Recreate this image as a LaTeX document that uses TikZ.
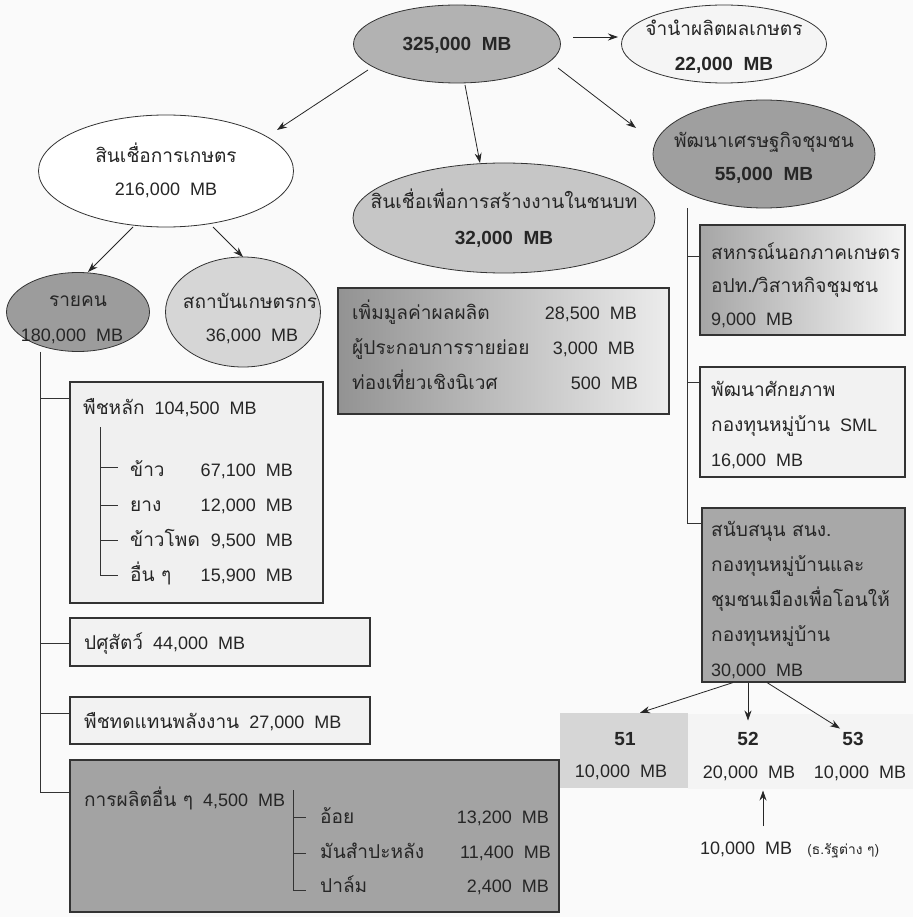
\documentclass[tikz,border=0pt]{standalone}
\usepackage{fontspec}
\setmainfont{Liberation Sans}
\newfontfamily\thf[Script=Thai,Scale=1.06]{Loma}
\usetikzlibrary{shapes.geometric,arrows.meta,calc}
\tikzset{
  ell/.style={draw=black!80, line width=0.8pt, ellipse, inner sep=0pt},
  bx/.style={draw=black!80, line width=1.1pt, rectangle, inner sep=0pt},
  arr/.style={-{Stealth[length=10pt,width=7pt]}, line width=0.8pt, draw=black!85},
  tree/.style={line width=0.9pt, draw=black!80},
  txt/.style={font=\fontsize{18}{22}\selectfont, inner sep=0pt, text=black!85},
  btxt/.style={font=\fontsize{19}{22}\selectfont\bfseries, inner sep=0pt, text=black!85},
}
\newcommand\rowl[4]{\node[txt,anchor=base west] (#1) at (#2,#3) {#4};}
\newcommand\rowr[4]{\node[txt,anchor=base east] (#1) at (#2,#3) {#4};}
\newcommand\rowc[4]{\node[txt,anchor=base] (#1) at (#2,#3) {#4};}
\newcommand\rowb[4]{\node[btxt,anchor=base] (#1) at (#2,#3) {#4};}
\begin{document}
\begin{tikzpicture}[x=1pt,y=-1pt]
\useasboundingbox (0,0) rectangle (913,917);
\fill[gray!4] (0,0) rectangle (913,917);

% ellipses
\node[ell, fill=gray!60, minimum width=207pt, minimum height=78pt] (A) at (457,44) {};
\node[ell, fill=gray!8, minimum width=205pt, minimum height=78pt] (B) at (724,44) {};
\node[ell, fill=white, minimum width=255pt, minimum height=112pt] (C) at (166,171) {};
\node[ell, fill=gray!45, minimum width=302pt, minimum height=110pt] (D) at (504,218) {};
\node[ell, fill=gray!75, minimum width=222pt, minimum height=108pt] (E) at (764,154) {};
\node[ell, fill=gray!78, minimum width=143pt, minimum height=79pt] (F) at (78,312) {};
\node[ell, fill=gray!32, minimum width=155pt, minimum height=110pt] (G) at (243,312) {};

\rowb{At}{457}{51}{325,000\ \ MB}
\rowc{B1}{724}{36}{\thf จำนำผลิตผลเกษตร}
\rowb{B2}{724}{71}{22,000\ \ MB}
\rowc{C1}{166}{163}{\thf สินเชื่อการเกษตร}
\rowc{C2}{166}{196}{216,000\ \ MB}
\rowc{D1}{504}{208}{\thf สินเชื่อเพื่อการสร้างงานในชนบท}
\rowb{D2}{504}{244}{32,000\ \ MB}
\rowc{E1}{764}{148}{\thf พัฒนาเศรษฐกิจชุมชน}
\rowb{E2}{764}{181}{55,000\ \ MB}
\rowc{F1}{78}{306}{\thf รายคน}
\rowc{F2}{72}{341}{180,000\ \ MB}
\rowc{G1}{250}{308}{\thf สถาบันเกษตรกร}
\rowc{G2}{252}{341}{36,000\ \ MB}

% arrows between ellipses
\draw[arr] ($(A.center)+(116,-7)$) -- ($(B.center)+(-106,-7)$);
\draw[arr] ($(A.center)+(-89,26)$) -- ($(C.center)+(111,-41)$);
\draw[arr] ($(A.center)+(8,41)$) -- ($(D.center)+(-24,-55)$);
\draw[arr] ($(A.center)+(101,24)$) -- ($(E.center)+(-128,-26)$);
\draw[arr] ($(C.center)+(-33,56)$) -- ($(F.center)+(10,-40)$);
\draw[arr] ($(C.center)+(47,56)$) -- ($(G.center)+(0,-55)$);

% boxes
\node[bx, fill=gray!12, minimum width=253pt, minimum height=221pt] (P1) at (196.5,492.5) {};
\node[bx, fill=gray!10, minimum width=300pt, minimum height=48pt] (P2) at (220,642) {};
\node[bx, fill=gray!10, minimum width=300pt, minimum height=47pt] (P3) at (220,720.5) {};
\node[bx, fill=gray!72, minimum width=489pt, minimum height=152pt] (P4) at (314.5,836) {};
\node[bx, left color=gray!85, middle color=white, right color=gray!15, minimum width=331pt, minimum height=126pt] (M) at (503.5,351) {};
\node[bx, left color=gray!70, right color=gray!8, minimum width=205pt, minimum height=110pt] (S1) at (802.5,280) {};
\node[bx, fill=gray!10, minimum width=205pt, minimum height=110pt] (S2) at (802.5,422) {};
\node[bx, fill=gray!68, minimum width=203pt, minimum height=174pt] (S3) at (803.5,595) {};

% left tree
\draw[tree] (F.south -| 40,0) -- (40,792) -- (P4.west |- 40,792);
\draw[tree] (40,398) -- (P1.west |- 40,398);
\draw[tree] (40,643) -- (P2.west |- 40,643);
\draw[tree] (40,713) -- (P3.west |- 40,713);

% right tree
\draw[tree] (E.south -| 687,0) -- (687,523) -- (S3.west |- 687,523);
\draw[tree] (687,256) -- (S1.west |- 687,256);
\draw[tree] (687,382) -- (S2.west |- 687,382);

% P1 content
\rowl{p1h}{83}{414}{{\thf พืชหลัก}\ \ 104,500\ \ MB}
\rowl{p1a}{130}{476}{\thf ข้าว}
\rowr{p1av}{293}{476}{67,100\ \ MB}
\rowl{p1b}{130}{511}{\thf ยาง}
\rowr{p1bv}{293}{511}{12,000\ \ MB}
\rowl{p1c}{130}{546}{\thf ข้าวโพด}
\rowr{p1cv}{293}{546}{9,500\ \ MB}
\rowl{p1d}{130}{581}{\thf อื่น ๆ}
\rowr{p1dv}{293}{581}{15,900\ \ MB}
\draw[tree] (100,427) -- (100,575) -- (118,575);
\draw[tree] (100,467) -- (118,467);
\draw[tree] (100,505) -- (118,505);
\draw[tree] (100,540) -- (118,540);

% P2, P3
\rowl{p2t}{84}{649}{{\thf ปศุสัตว์}\ \ 44,000\ \ MB}
\rowl{p3t}{84}{728}{{\thf พืชทดแทนพลังงาน}\ \ 27,000\ \ MB}

% P4 content
\rowl{p4h}{84}{806}{{\thf การผลิตอื่น ๆ}\ \ 4,500\ \ MB}
\rowl{p4a}{320}{823}{\thf อ้อย}
\rowr{p4av}{549}{823}{13,200\ \ MB}
\rowl{p4b}{320}{858}{\thf มันสำปะหลัง}
\rowr{p4bv}{551}{858}{11,400\ \ MB}
\rowl{p4c}{320}{892}{\thf ปาล์ม}
\rowr{p4cv}{549}{892}{2,400\ \ MB}
\draw[tree] (293,790) -- (293,890) -- (306,890);
\draw[tree] (293,817) -- (306,817);
\draw[tree] (293,853) -- (306,853);

% middle box content
\rowl{m1}{352}{319}{\thf เพิ่มมูลค่าผลผลิต}
\rowr{m1v}{637}{319}{28,500\ \ MB}
\rowl{m2}{352}{354}{\thf ผู้ประกอบการรายย่อย}
\rowr{m2v}{635}{354}{3,000\ \ MB}
\rowl{m3}{352}{389}{\thf ท่องเที่ยวเชิงนิเวศ}
\rowr{m3v}{638}{389}{500\ \ MB}

% right boxes content
\rowl{s1a}{711}{259}{\thf สหกรณ์นอกภาคเกษตร}
\rowl{s1b}{711}{292}{\thf อปท./วิสาหกิจชุมชน}
\rowl{s1c}{711}{325}{9,000\ \ MB}
\rowl{s2a}{711}{396}{\thf พัฒนาศักยภาพ}
\rowl{s2b}{711}{431}{{\thf กองทุนหมู่บ้าน}\ \ SML}
\rowl{s2c}{711}{466}{16,000\ \ MB}
\rowl{s3a}{711}{536}{\thf สนับสนุน สนง.}
\rowl{s3b}{711}{571}{\thf กองทุนหมู่บ้านและ}
\rowl{s3c}{711}{606}{\thf ชุมชนเมืองเพื่อโอนให้}
\rowl{s3d}{711}{641}{\thf กองทุนหมู่บ้าน}
\rowl{s3e}{711}{676}{30,000\ \ MB}

% bottom
\node[fill=gray!32, minimum width=128pt, minimum height=75pt, inner sep=0pt] (n51) at (624,750.5) {};
\node[fill=gray!9, minimum width=225pt, minimum height=75pt, inner sep=0pt] (n5253) at (800.5,751) {};
\rowb{n51a}{625}{745}{51}
\rowc{n51b}{621}{777}{10,000\ \ MB}
\rowb{n52a}{748}{745}{52}
\rowc{n52b}{749}{778}{20,000\ \ MB}
\rowb{n53a}{853}{745}{53}
\rowc{n53b}{860}{778}{10,000\ \ MB}

\draw[arr] ($(S3.south)+(-70.5,0)$) -- ($(n51.north)+(16,0)$);
\draw[arr] ($(S3.south)+(-55.5,0)$) -- ($(n52a.north)+(0,-11)$);
\draw[arr] ($(S3.south)+(-36.5,0)$) -- ($(n53a.north)+(-13,-3)$);

\node[txt, anchor=base west] (note) at (700,854) {10,000\ \ MB\ \ \ {\thf\fontsize{13}{15}\selectfont(ธ.รัฐต่าง ๆ)}};
\draw[arr] ($(note.north west)+(63,-15)$) -- ($(n52b.south)+(14,10)$);
\end{tikzpicture}
\end{document}
